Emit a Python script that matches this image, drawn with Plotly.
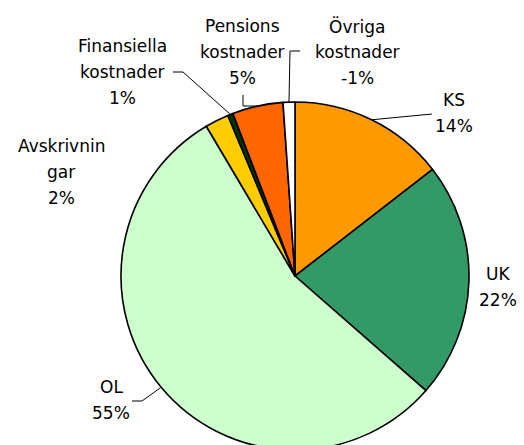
import math
import plotly.graph_objects as go

# ---- data ----
categories = ["KS", "UK", "OL", "Avskrivningar", "Finansiella kostnader",
              "Pensions kostnader", "Övriga kostnader"]
values = [14.5, 21.9, 55.0, 2.2, 0.5, 4.7, -1.1]
label_lines = [["KS", "14%"], ["UK", "22%"], ["OL", "55%"],
               ["Avskrivnin", "gar", "2%"],
               ["Finansiella", "kostnader", "1%"],
               ["Pensions", "kostnader", "5%"],
               ["Övriga", "kostnader", "-1%"]]
colors = ["#FF9900", "#339966", "#CCFFCC", "#FFCC00", "#003300", "#FF6600", "#FFFFFF"]

W, H = 524, 450          # figure slightly taller than the 445 window: pie bottom is clipped
CX, R = 295, 174
CY = H - R  # pie centre (px from top) = 276

# label placement (text centre x, first-line baseline y, px)
label_pos = [(454, 106), (498, 280), (111, 393), (61, 152), (122, 52), (242, 32), (357, 32)]
LINE_H = 26
# leader-line elbow points (px) for slices that have one
leaders = {
    0: [(432, 114)],
    2: [(142, 401), (132, 401)],
    4: [(183, 72), (173, 72)],
    5: [(243, 106), (243, 95)],
    6: [(290, 51), (300, 51)],
}

abs_vals = [abs(v) for v in values]
total = sum(abs_vals)

fig = go.Figure(go.Pie(
    labels=categories, values=abs_vals, sort=False, direction="clockwise",
    rotation=0, textinfo="none", hoverinfo="label+percent",
    marker=dict(colors=colors, line=dict(color="#000000", width=1.6)),
    domain=dict(x=[(CX - R) / W, (CX + R) / W], y=[0, 2 * R / H]),
    showlegend=False,
))

def px(x, y):
    return x / W, 1 - y / H

annotations = []
for i, lines in enumerate(label_lines):
    cx, by = label_pos[i]
    for j, t in enumerate(lines):
        x, y = px(cx, by + j * LINE_H - 6)
        annotations.append(dict(x=x, y=y, xref="paper", yref="paper", text=t,
                                showarrow=False, xanchor="center", yanchor="middle",
                                font=dict(family="DejaVu Sans", size=17, color="#000")))

shapes = []
cum = 0
for i, v in enumerate(abs_vals):
    mid = (cum + v / 2) / total * 2 * math.pi
    cum += v
    if i not in leaders:
        continue
    ex, ey = CX + R * math.sin(mid), CY - R * math.cos(mid)
    pts = [(ex, ey)] + leaders[i]
    path = "M " + " L ".join(f"{px(a, b)[0]},{px(a, b)[1]}" for a, b in pts)
    shapes.append(dict(type="path", path=path, xref="paper", yref="paper",
                       line=dict(color="#000", width=1)))

fig.update_layout(width=W, height=H, margin=dict(l=0, r=0, t=0, b=0),
                  paper_bgcolor="#FFFFFF", plot_bgcolor="#FFFFFF",
                  annotations=annotations, shapes=shapes)
fig.write_html("out.html", config={"displayModeBar": False},
               post_script="document.body.style.margin='0';document.body.style.overflow='hidden';")
